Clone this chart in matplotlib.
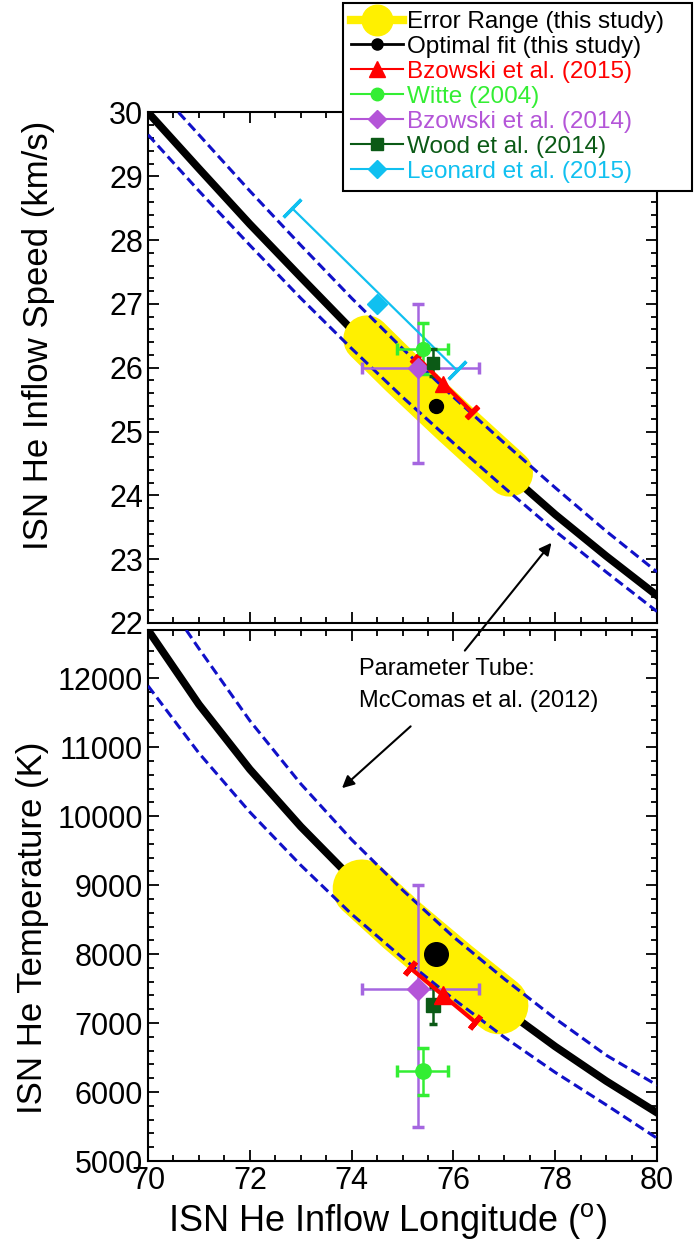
import numpy as np
import matplotlib.pyplot as plt
from matplotlib.lines import Line2D
from matplotlib.ticker import MultipleLocator

plt.rcParams['font.family'] = ['Liberation Sans', 'DejaVu Sans']
plt.rcParams['mathtext.fontset'] = 'custom'
plt.rcParams['mathtext.rm'] = 'Liberation Sans'

# longitude grid for the fitted curve and the parameter tube
lon_grid = [70, 71, 72, 73, 74, 75, 76, 77, 78, 79, 80]

# inflow speed (km/s)
speed_fit = [30.0, 29.12, 28.25, 27.42, 26.6, 25.84, 25.1, 24.4, 23.7, 23.05, 22.43]
speed_hi_lon = [70.6, 71, 72, 73, 74, 75, 76, 77, 78, 79, 80]
speed_hi = [30.0, 29.65, 28.77, 27.92, 27.09, 26.3, 25.54, 24.82, 24.12, 23.44, 22.80]
speed_lo = [29.65, 28.77, 27.92, 27.09, 26.3, 25.54, 24.82, 24.12, 23.44, 22.80, 22.18]
speed_err_lon = [74.3, 75.0, 76.0, 77.1]
speed_err = [26.45, 25.9, 25.15, 24.35]

# temperature (K)
temp_fit = [12700, 11620, 10680, 9850, 9100, 8410, 7790, 7200, 6660, 6160, 5700]
temp_hi_lon = [70.75, 71, 72, 73, 74, 75, 76, 77, 78, 79, 80]
temp_hi = [12700, 12430, 11385, 10470, 9660, 8930, 8250, 7640, 7065, 6535, 6100]
temp_lo = [11890, 10915, 10060, 9290, 8580, 7945, 7350, 6795, 6285, 5815, 5330]
temp_err_lon = [74.2, 75.0, 76.0, 76.9]
temp_err = [8950, 8410, 7790, 7260]

# optimal fit
opt_lon, opt_v, opt_t = 75.65, 25.4, 8000

# Bzowski et al. (2015) - correlated errors along the tube
bz15_lon, bz15_v, bz15_t = 75.8, 25.75, 7400
bz15_v_bar_lon = [75.28, 76.37]
bz15_v_bar = [26.17, 25.30]
bz15_t_bar_lon = [75.15, 76.42]
bz15_t_bar = [7800, 7020]

# Witte (2004)
witte_lon, witte_lon_err = 75.4, 0.5
witte_v, witte_v_err = 26.3, 0.4
witte_t, witte_t_err = 6300, 340

# Bzowski et al. (2014)
bz14_lon, bz14_lon_err = 75.3, [[1.1], [1.2]]
bz14_v, bz14_v_err = 26.0, [[1.5], [1.0]]
bz14_t, bz14_t_err = 7500, [[2000], [1500]]

# Wood et al. (2014)
wood_lon = 75.6
wood_v, wood_v_err = 26.08, 0.21
wood_t, wood_t_err = 7260, 270

# Leonard et al. (2015)
leo_lon, leo_v = 74.5, 27.0
leo_bar_lon = [72.83, 76.07]
leo_bar = [28.5, 25.96]

YELLOW = '#fff000'
RED = '#ff0000'
GREEN = '#33ee33'
PURPLE = '#b455d8'
PURPLE_BAR = '#a566e0'
DKGREEN = '#0b5a16'
LTBLUE = '#10c0f0'
TUBE = '#1010c8'
DASH = (0, (3.2, 1.6))

fig = plt.figure(figsize=(6.94, 12.55), dpi=100)
ax1 = fig.add_axes([0.2133, 0.5036, 0.7334, 0.4068])
ax2 = fig.add_axes([0.2133, 0.0749, 0.7334, 0.4231])

ax1.set_ylim(22, 30)
ax2.set_ylim(5000, 12700)
for ax in (ax1, ax2):
    ax.set_xlim(70, 80)
    ax.xaxis.set_major_locator(MultipleLocator(2))
    ax.xaxis.set_minor_locator(MultipleLocator(0.5))
    ax.tick_params(which='both', direction='in', top=True, right=True, width=1.3,
                   labelsize=22)
    ax.tick_params(which='major', length=8)
    ax.tick_params(which='minor', length=4)
    for s in ax.spines.values():
        s.set_linewidth(1.5)
ax1.yaxis.set_major_locator(MultipleLocator(1))
ax1.yaxis.set_minor_locator(MultipleLocator(0.2))
ax1.tick_params(labelbottom=False)
ax2.yaxis.set_major_locator(MultipleLocator(1000))
ax2.yaxis.set_minor_locator(MultipleLocator(200))


def tilted_bar(ax, xs, ys, color, lw, cap):
    # error bar along an arbitrary direction, caps drawn perpendicular to it
    ax.plot(xs, ys, color=color, lw=lw, zorder=6)
    p = ax.transData.transform(np.column_stack([xs, ys]))
    ang = np.degrees(np.arctan2(p[1, 1] - p[0, 1], p[1, 0] - p[0, 0]))
    ax.plot(xs, ys, ls='none', marker=(2, 2, ang), ms=cap, mec=color,
            mew=lw + 0.8, zorder=6)


# ---- top panel: speed ----
ax1.plot(lon_grid, speed_fit, color='black', lw=5.5, zorder=2)
ax1.plot(speed_err_lon, speed_err, color=YELLOW, lw=34, solid_capstyle='round', zorder=3)
ax1.plot(speed_hi_lon, speed_hi, color=TUBE, lw=2.2, ls=DASH, zorder=4)
ax1.plot(lon_grid, speed_lo, color=TUBE, lw=2.2, ls=DASH, zorder=4)

tilted_bar(ax1, leo_bar_lon, leo_bar, LTBLUE, 1.6, 18)
ax1.plot(leo_lon, leo_v, 'D', color=LTBLUE, ms=10, zorder=7)
ax1.errorbar(bz14_lon, bz14_v, xerr=bz14_lon_err, yerr=bz14_v_err, fmt='none',
             ecolor=PURPLE_BAR, elinewidth=1.8, capsize=4, capthick=2.5, zorder=5)
ax1.errorbar(witte_lon, witte_v, xerr=witte_lon_err, yerr=witte_v_err, fmt='none',
             ecolor=GREEN, elinewidth=1.8, capsize=4, capthick=2.5, zorder=6)
ax1.errorbar(wood_lon, wood_v, yerr=wood_v_err, fmt='none',
             ecolor=DKGREEN, elinewidth=1.8, capsize=3, capthick=2.5, zorder=6)
tilted_bar(ax1, bz15_v_bar_lon, bz15_v_bar, RED, 3.0, 12)
ax1.plot(bz14_lon, bz14_v, 'D', color=PURPLE, ms=10, zorder=7)
ax1.plot(witte_lon, witte_v, 'o', color=GREEN, ms=10, zorder=7)
ax1.plot(wood_lon, wood_v, 's', color=DKGREEN, ms=9, zorder=7)
ax1.plot(bz15_lon, bz15_v, '^', color=RED, ms=12, zorder=8)
ax1.plot(opt_lon, opt_v, 'o', color='black', ms=10, zorder=9)

# ---- bottom panel: temperature ----
ax2.plot(lon_grid, temp_fit, color='black', lw=5.5, zorder=2)
ax2.plot(temp_err_lon, temp_err, color=YELLOW, lw=42, solid_capstyle='round', zorder=3)
ax2.plot(temp_hi_lon, temp_hi, color=TUBE, lw=2.2, ls=DASH, zorder=4)
ax2.plot(lon_grid, temp_lo, color=TUBE, lw=2.2, ls=DASH, zorder=4)

ax2.errorbar(bz14_lon, bz14_t, xerr=bz14_lon_err, yerr=bz14_t_err, fmt='none',
             ecolor=PURPLE_BAR, elinewidth=1.8, capsize=4, capthick=2.5, zorder=5)
ax2.errorbar(witte_lon, witte_t, xerr=witte_lon_err, yerr=witte_t_err, fmt='none',
             ecolor=GREEN, elinewidth=1.8, capsize=4, capthick=2.5, zorder=6)
ax2.errorbar(wood_lon, wood_t, yerr=wood_t_err, fmt='none',
             ecolor=DKGREEN, elinewidth=1.8, capsize=3, capthick=2.5, zorder=6)
tilted_bar(ax2, bz15_t_bar_lon, bz15_t_bar, RED, 3.0, 12)
ax2.plot(bz14_lon, bz14_t, 'D', color=PURPLE, ms=11, zorder=7)
ax2.plot(witte_lon, witte_t, 'o', color=GREEN, ms=11, zorder=7)
ax2.plot(wood_lon, wood_t, 's', color=DKGREEN, ms=10, zorder=7)
ax2.plot(bz15_lon, bz15_t, '^', color=RED, ms=13, zorder=8)
ax2.plot(opt_lon, opt_t, 'o', color='black', ms=17, zorder=9)

# labels
ax1.set_ylabel('ISN He Inflow Speed (km/s)', fontsize=25)
ax1.yaxis.set_label_coords(-0.183, 0.563)
ax2.set_ylabel('ISN He Temperature (K)', fontsize=25)
ax2.yaxis.set_label_coords(-0.195, 0.44)
ax2.set_xlabel(r'ISN He Inflow Longitude ($^{\mathrm{o}}$)', fontsize=26)
ax2.xaxis.set_label_coords(0.471, -0.075)

# parameter tube annotation
ax2.text(74.15, 12290, 'Parameter Tube:\nMcComas et al. (2012)', fontsize=17,
         ha='left', va='top', linespacing=1.55, zorder=10)
ax2.annotate('', xy=(77.96, 23.29), xycoords=ax1.transData,
             xytext=(76.19, 12370), textcoords=ax2.transData,
             arrowprops=dict(arrowstyle='-|>', color='black', lw=1.5, mutation_scale=18),
             annotation_clip=False, zorder=10)
ax2.annotate('', xy=(73.77, 10380), xytext=(75.2, 11330),
             arrowprops=dict(arrowstyle='-|>', color='black', lw=1.5, mutation_scale=18),
             zorder=10)

# legend
handles = [
    Line2D([], [], color=YELLOW, lw=6, marker='o', ms=22),
    Line2D([], [], color='black', lw=2, marker='o', ms=8),
    Line2D([], [], color=RED, lw=1.5, marker='^', ms=12),
    Line2D([], [], color=GREEN, lw=1.5, marker='o', ms=9),
    Line2D([], [], color=PURPLE, lw=1.5, marker='D', ms=9),
    Line2D([], [], color=DKGREEN, lw=1.5, marker='s', ms=9),
    Line2D([], [], color=LTBLUE, lw=1.5, marker='D', ms=9),
]
labels = ['Error Range (this study)', 'Optimal fit (this study)', 'Bzowski et al. (2015)',
          'Witte (2004)', 'Bzowski et al. (2014)', 'Wood et al. (2014)',
          'Leonard et al. (2015)']
text_colors = ['black', 'black', RED, GREEN, PURPLE, DKGREEN, LTBLUE]
leg = fig.legend(handles, labels, loc='upper left',
                 bbox_to_anchor=(0.494, 0.0, 0.503, 0.998), mode='expand',
                 fontsize=17.5, numpoints=1, handlelength=2.14, handletextpad=0.15,
                 labelspacing=0.12, borderpad=0.35, borderaxespad=0.0,
                 fancybox=False, framealpha=1, edgecolor='black')
leg.get_frame().set_linewidth(1.5)
for t, c in zip(leg.get_texts(), text_colors):
    t.set_color(c)

fig.savefig('out.png', dpi=100)
